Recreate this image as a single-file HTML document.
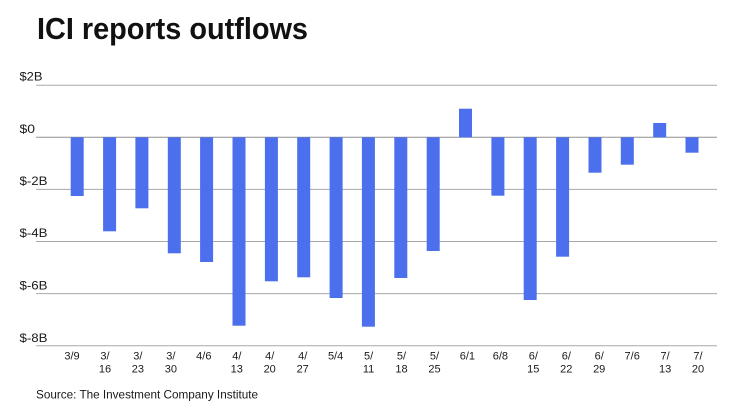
<!DOCTYPE html>
<html>
<head>
<meta charset="utf-8">
<style>
  html, body { margin: 0; padding: 0; background: #ffffff; }
  body { width: 740px; height: 416px; overflow: hidden; }
  svg { display: block; }
  text { font-family: "Liberation Sans", "DejaVu Sans", sans-serif; fill: #1a1a1a; }
</style>
</head>
<body>
<svg width="740" height="416" viewBox="0 0 740 416" xmlns="http://www.w3.org/2000/svg">
  <rect x="0" y="0" width="740" height="416" fill="#ffffff"/>

  <!-- Title -->
  <text x="37" y="39" font-size="31" font-weight="bold" textLength="271" lengthAdjust="spacingAndGlyphs" style="fill:#111">ICI reports outflows</text>

  <!-- Gridlines -->
  <g stroke="#a8a8a8" stroke-width="1">
    <line x1="36" y1="85.2" x2="717" y2="85.2"/>
    <line x1="36" y1="137.3" x2="717" y2="137.3" stroke="#8f8f8f"/>
    <line x1="36" y1="189.4" x2="717" y2="189.4"/>
    <line x1="36" y1="241.5" x2="717" y2="241.5"/>
    <line x1="36" y1="293.6" x2="717" y2="293.6"/>
    <line x1="36" y1="345.7" x2="717" y2="345.7"/>
  </g>

  <!-- Y labels -->
  <g font-size="12">
    <text x="19.5" y="80.5" textLength="23" lengthAdjust="spacingAndGlyphs">$2B</text>
    <text x="19.5" y="132.8" textLength="15.5" lengthAdjust="spacingAndGlyphs">$0</text>
    <text x="19.5" y="185" textLength="28" lengthAdjust="spacingAndGlyphs">$-2B</text>
    <text x="19.5" y="237" textLength="28" lengthAdjust="spacingAndGlyphs">$-4B</text>
    <text x="19.5" y="289.3" textLength="28" lengthAdjust="spacingAndGlyphs">$-6B</text>
    <text x="19.5" y="342" textLength="28" lengthAdjust="spacingAndGlyphs">$-8B</text>
  </g>

  <!-- Bars -->
  <g fill="#4b6fed">
    <rect x="70.7"  y="137.3" width="13" height="58.7"/>
    <rect x="103.1" y="137.3" width="13" height="94"/>
    <rect x="135.4" y="137.3" width="13" height="71"/>
    <rect x="167.8" y="137.3" width="13" height="116"/>
    <rect x="200.1" y="137.3" width="13" height="124.7"/>
    <rect x="232.5" y="137.3" width="13" height="188.4"/>
    <rect x="264.9" y="137.3" width="13" height="144"/>
    <rect x="297.2" y="137.3" width="13" height="140"/>
    <rect x="329.6" y="137.3" width="13" height="160.7"/>
    <rect x="361.9" y="137.3" width="13" height="189.4"/>
    <rect x="394.3" y="137.3" width="13" height="140.7"/>
    <rect x="426.7" y="137.3" width="13" height="113.7"/>
    <rect x="459.0" y="108.7" width="13" height="28.6"/>
    <rect x="491.4" y="137.3" width="13" height="58.4"/>
    <rect x="523.7" y="137.3" width="13" height="162.7"/>
    <rect x="556.1" y="137.3" width="13" height="119.4"/>
    <rect x="588.5" y="137.3" width="13" height="35.4"/>
    <rect x="620.8" y="137.3" width="13" height="27.4"/>
    <rect x="653.2" y="123"   width="13" height="14.3"/>
    <rect x="685.5" y="137.3" width="13" height="15.4"/>
  </g>

  <!-- X labels -->
  <g font-size="11" text-anchor="middle">
    <text x="72" y="359.3">3/9</text>
    <text x="105" y="359.3">3/</text><text x="105" y="372.3">16</text>
    <text x="137.9" y="359.3">3/</text><text x="137.9" y="372.3">23</text>
    <text x="170.9" y="359.3">3/</text><text x="170.9" y="372.3">30</text>
    <text x="203.8" y="359.3">4/6</text>
    <text x="236.8" y="359.3">4/</text><text x="236.8" y="372.3">13</text>
    <text x="269.7" y="359.3">4/</text><text x="269.7" y="372.3">20</text>
    <text x="302.7" y="359.3">4/</text><text x="302.7" y="372.3">27</text>
    <text x="335.6" y="359.3">5/4</text>
    <text x="368.6" y="359.3">5/</text><text x="368.6" y="372.3">11</text>
    <text x="401.5" y="359.3">5/</text><text x="401.5" y="372.3">18</text>
    <text x="434.5" y="359.3">5/</text><text x="434.5" y="372.3">25</text>
    <text x="467.4" y="359.3">6/1</text>
    <text x="500.4" y="359.3">6/8</text>
    <text x="533.3" y="359.3">6/</text><text x="533.3" y="372.3">15</text>
    <text x="566.3" y="359.3">6/</text><text x="566.3" y="372.3">22</text>
    <text x="599.2" y="359.3">6/</text><text x="599.2" y="372.3">29</text>
    <text x="632.2" y="359.3">7/6</text>
    <text x="665.1" y="359.3">7/</text><text x="665.1" y="372.3">13</text>
    <text x="698" y="359.3">7/</text><text x="698" y="372.3">20</text>
  </g>

  <!-- Source -->
  <text x="36" y="398.7" font-size="12" textLength="222" lengthAdjust="spacingAndGlyphs">Source: The Investment Company Institute</text>
</svg>
</body>
</html>
